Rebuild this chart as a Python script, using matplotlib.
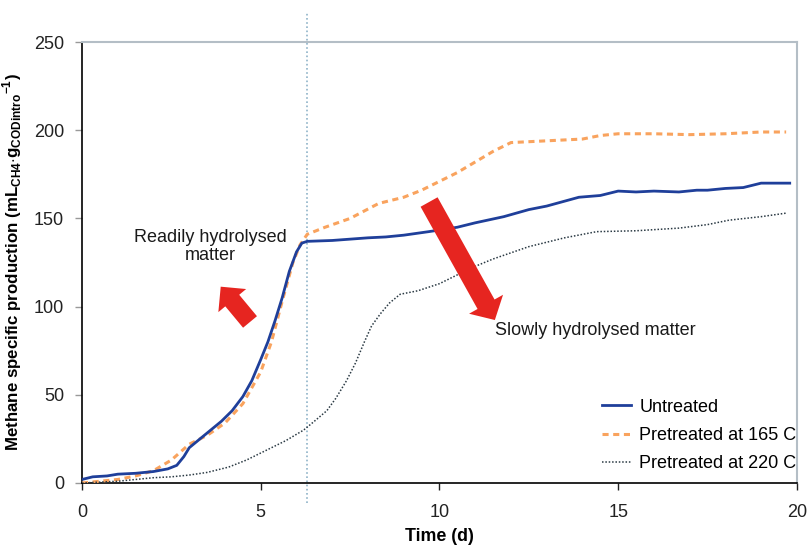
"""Cumulative methane production curves for untreated and pretreated samples."""
import matplotlib
matplotlib.use('Agg')
from matplotlib import pyplot as plt
from matplotlib.patches import FancyArrowPatch

plt.rcParams['font.family'] = ['Liberation Sans', 'DejaVu Sans']
plt.rcParams['mathtext.fontset'] = 'custom'
plt.rcParams['mathtext.bf'] = 'Liberation Sans:bold'
plt.rcParams['mathtext.rm'] = 'Liberation Sans:bold'

# Untreated
t_untreated = [0, 0.3, 0.7, 1.0, 1.5, 2.0, 2.4, 2.65, 2.85, 3.0, 3.3, 3.6,
               3.9, 4.2, 4.5, 4.75, 5.0, 5.2, 5.4, 5.6, 5.8, 6.0, 6.15, 6.3,
               7.0, 8.0, 8.5, 9.0, 9.7, 10.5, 11.0, 11.8, 12.5, 13.0, 13.9,
               14.5, 15.0, 15.5, 16.0, 16.7, 17.2, 17.5, 18.0, 18.5, 19.0,
               19.5, 19.8]
y_untreated = [2, 3.5, 4, 5, 5.5, 6.5, 8, 10, 15, 20, 25, 30,
               35, 41, 49, 58, 70, 80, 92, 105, 120, 131, 136, 137,
               137.5, 139, 139.5, 140.5, 142.5, 145, 147.5, 151, 155, 157, 162,
               163, 165.5, 165, 165.5, 165, 166, 166, 167, 167.5, 170,
               170, 170]

# Pretreated at 165 C
t_165 = [0, 0.5, 1.0, 1.5, 2.0, 2.5, 3.0, 3.5, 4.0, 4.5, 5.0, 5.3, 5.6,
         5.9, 6.1, 6.3, 6.8, 7.5, 8.3, 9.0, 9.5, 10.0, 10.5, 11.0, 11.5,
         12.0, 13.0, 14.0, 14.5, 15.0, 16.0, 17.0, 18.0, 19.0, 19.7]
y_165 = [0, 1, 2, 4, 7, 13, 22, 27, 34, 45, 63, 80, 103,
         125, 135, 141, 145, 150, 158.5, 162, 166, 171, 176, 182, 188,
         193, 194, 195, 197, 198, 198, 197.5, 198, 199, 199]

# Pretreated at 220 C
t_220 = [0, 0.5, 1.0, 1.5, 2.0, 2.5, 3.0, 3.5, 4.1, 4.6, 5.2, 5.7, 6.2,
         6.5, 6.85, 7.1, 7.4, 7.65, 7.9, 8.1, 8.35, 8.6, 8.9, 9.4, 10.0,
         10.9, 11.5, 12.5, 13.5, 14.4, 15.5, 16.7, 17.5, 18.1, 19.0, 19.7]
y_220 = [0, 0.5, 1, 2, 3, 3.5, 4.5, 6, 9, 13, 19, 24, 30,
         35, 41, 48, 58, 68, 80, 89, 96, 102, 107, 109, 113,
         122, 127, 134, 139, 142.5, 143, 144.5, 146.5, 149, 151, 153]

x_ticks = [0, 5, 10, 15, 20]
y_ticks = [0, 50, 100, 150, 200, 250]
split_day = 6.29

fig = plt.figure(figsize=(8.09, 5.46), dpi=100)
ax = fig.add_axes([0.1014, 0.1154, 0.8836, 0.8076])

ax.plot(t_untreated, y_untreated, color='#1f3f9a', lw=2.0,
        label='Untreated', zorder=4)
ax.plot(t_165, y_165, color='#f9a35e', lw=2.2, ls=(0, (2.0, 1.5)),
        label='Pretreated at 165 C', zorder=3)
ax.plot(t_220, y_220, color='#2b3a44', lw=1.1, ls=(0, (1, 1.2)),
        label='Pretreated at 220 C', zorder=3)

ax.axvline(split_day, ymin=-0.045, ymax=1.068, color='#8fb3c8', lw=1.2,
           ls=(0, (1, 1.5)), clip_on=False, zorder=2)

# fat red arrows pointing at the two fractions
red = '#e62520'
arrow_small = FancyArrowPatch(
    (4.70, 91.3), (3.88, 111.3),
    arrowstyle='simple,head_width=26,head_length=13,tail_width=13',
    mutation_scale=1, shrinkA=0, shrinkB=0, color=red, lw=0, zorder=5)
arrow_big = FancyArrowPatch(
    (9.71, 159.3), (11.55, 92.4),
    arrowstyle='simple,head_width=28,head_length=13,tail_width=14',
    mutation_scale=1, shrinkA=0, shrinkB=0, color=red, lw=0, zorder=5)
ax.add_patch(arrow_small)
ax.add_patch(arrow_big)

ax.text(3.58, 134, 'Readily hydrolysed\nmatter', ha='center', va='center',
        fontsize=13, linespacing=1.1, color='#1a1a1a')
ax.text(14.35, 86.7, 'Slowly hydrolysed matter', ha='center', va='center',
        fontsize=13, color='#1a1a1a')

ax.set_xlim(0, 20)
ax.set_ylim(0, 250)
ax.set_xticks(x_ticks)
ax.set_yticks(y_ticks)
ax.tick_params(labelsize=13, direction='out', length=5, width=1,
               colors='#222222')
ax.tick_params(axis='y', color='#999999', pad=8)
ax.tick_params(axis='x', pad=10)

for side in ['top', 'right']:
    ax.spines[side].set_color('#b4bec6')
    ax.spines[side].set_linewidth(1.5)
for side in ['left', 'bottom']:
    ax.spines[side].set_color('black')
    ax.spines[side].set_linewidth(1.2)

ax.set_xlabel('Time (d)', fontsize=12.8, fontweight='bold', labelpad=5)
ax.set_ylabel('Methane specific production '
              r'(mL$_{\mathbf{CH4}}$$\cdot$g$_{\mathbf{CODintro}}$$^{\mathbf{-1}}$)',
              fontsize=12.2, fontweight='bold', labelpad=7)

ax.legend(loc='lower right', bbox_to_anchor=(1.022, -0.012), frameon=False,
          fontsize=13, handlelength=1.6, handletextpad=0.45,
          labelspacing=0.62)

fig.savefig('out.png', dpi=100)
